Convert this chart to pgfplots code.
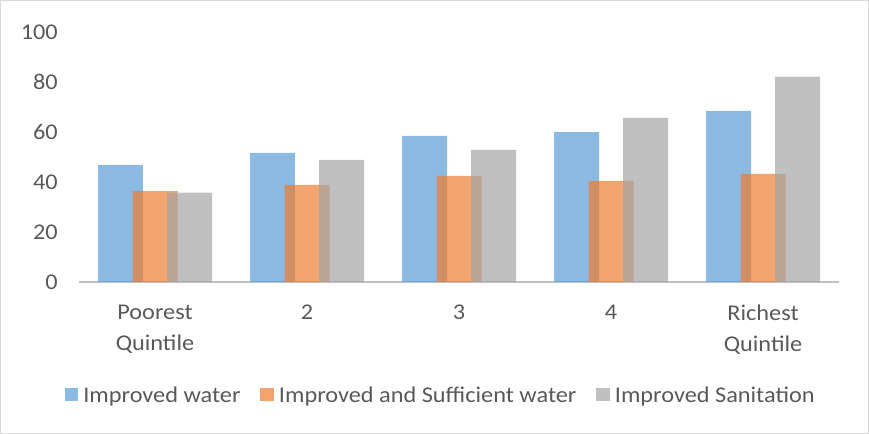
\documentclass[border=0pt]{standalone}
\usepackage{fontspec}
\setmainfont{Carlito}[FakeStretch=1.08]
\usepackage{pgfplots}
\pgfplotsset{compat=1.18}
\definecolor{cblue}{HTML}{5B9BD5}
\definecolor{corange}{HTML}{ED7D31}
\definecolor{cgray}{HTML}{A5A5A5}
\definecolor{ctext}{HTML}{595959}
\definecolor{caxis}{HTML}{BFBFBF}
\definecolor{cborder}{HTML}{D9D9D9}
\begin{document}
\begin{tikzpicture}[x=1bp,y=1bp]
\draw[cborder, line width=1bp] (0.5,0.5) rectangle (868.5,433.5);
\begin{axis}[
  at={(79bp,152bp)}, anchor=south west,
  scale only axis, width=760bp, height=250bp,
  ybar, bar width=0.296,
  xmin=-0.5, xmax=4.5, ymin=0, ymax=100,
  enlargelimits=false,
  xtick={0,1,2,3,4},
  xticklabels={{Poorest\\Quintile},2,3,{4},{Richest\\Quintile}},
  ytick={0,20,40,60,80,100},
  major tick length=0pt,
  axis x line*=bottom, axis y line*=left,
  y axis line style={draw=none},
  x axis line style={draw=caxis, line width=2bp},
  font=\fontsize{22.5bp}{31bp}\selectfont,
  /pgf/number format/assume math mode=true,
  tick label style={text=ctext, font=\fontsize{22.5bp}{31bp}\selectfont},
  yticklabel style={anchor=east, inner sep=0pt, xshift=-21bp},
  xticklabel style={anchor=north, inner sep=0pt, yshift=-23bp, align=center},
  legend columns=3,
  legend style={at={(0.476,-0.452)}, anchor=center, draw=none, fill=none,
    text=ctext, font=\fontsize{22.5bp}{26bp}\selectfont,
    /tikz/every odd column/.append style={column sep=3bp},
    /tikz/every even column/.append style={column sep=18bp}},
  legend image code/.code={\fill[#1] (0bp,-6.5bp) rectangle (13.5bp,7bp);},
]
\addplot[fill=cblue, draw=none, fill opacity=0.7, bar shift=-0.227] coordinates {(0,46.8) (1,51.6) (2,58.4) (3,59.9) (4,68.4)};
\addlegendentry{Improved water}
\addplot[fill=corange, draw=none, fill opacity=0.7, bar shift=0] coordinates {(0,36.3) (1,38.8) (2,42.4) (3,40.4) (4,43.2)};
\addlegendentry{Improved and Sufficient water}
\addplot[fill=cgray, draw=none, fill opacity=0.7, bar shift=0.227] coordinates {(0,35.7) (1,48.8) (2,52.8) (3,65.6) (4,82.1)};
\addlegendentry{Improved Sanitation}
\end{axis}
\end{tikzpicture}
\end{document}
